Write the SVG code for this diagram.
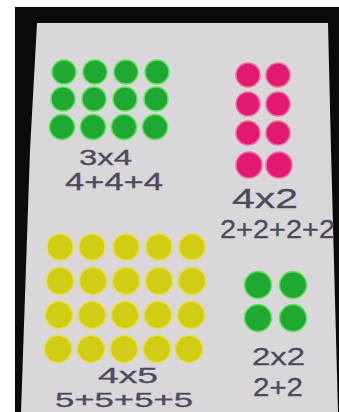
<svg xmlns="http://www.w3.org/2000/svg" width="339" height="412" viewBox="0 0 339 412">
<style>
.g{fill:#1fa832;stroke:#63e25e;stroke-width:1.5}
.p{fill:#e2196f;stroke:#f56aa8;stroke-width:1.5}
.y{fill:#d3cc14;stroke:#e6e03a;stroke-width:1.5}
.t{font-family:"Liberation Sans",Arial,sans-serif;fill:#4c4b5e;stroke:#4c4b5e;stroke-width:0.3}
</style>
<rect width="339" height="412" fill="#ffffff"/>
<rect x="15" y="7" width="324" height="405" fill="#0b0909"/>
<polygon points="37,23 328,23 331,150 338,412 21,412 30,150" fill="#d9d7da"/>
<g id="array-3x4">
<circle class="g" cx="64" cy="72" r="12"/><circle class="g" cx="95" cy="72" r="12"/><circle class="g" cx="126" cy="72" r="12"/><circle class="g" cx="157" cy="72" r="12"/>
<circle class="g" cx="63" cy="99" r="12"/><circle class="g" cx="94" cy="99" r="12"/><circle class="g" cx="125" cy="99" r="12"/><circle class="g" cx="156" cy="99" r="12"/>
<circle class="g" cx="62" cy="127" r="12.5"/><circle class="g" cx="93" cy="127" r="12.5"/><circle class="g" cx="124" cy="127" r="12.5"/><circle class="g" cx="155" cy="127" r="12.5"/>
<text class="t" x="79" y="165" font-size="22" textLength="53" lengthAdjust="spacingAndGlyphs">3x4</text>
<text class="t" x="65" y="190" font-size="23" textLength="98" lengthAdjust="spacingAndGlyphs">4+4+4</text>
</g>
<g id="array-4x2">
<circle class="p" cx="248" cy="75" r="12"/><circle class="p" cx="278" cy="75" r="12"/>
<circle class="p" cx="248" cy="104" r="12"/><circle class="p" cx="278" cy="104" r="12"/>
<circle class="p" cx="248" cy="133" r="12"/><circle class="p" cx="278" cy="133" r="12"/>
<circle class="p" cx="249" cy="165" r="13"/><circle class="p" cx="279" cy="165" r="13"/>
<text class="t" x="232" y="208" font-size="27" textLength="66" lengthAdjust="spacingAndGlyphs">4x2</text>
<text class="t" x="220" y="238" font-size="25" textLength="115" lengthAdjust="spacingAndGlyphs">2+2+2+2</text>
</g>
<g id="array-4x5">
<circle class="y" cx="60" cy="247" r="13"/><circle class="y" cx="92" cy="247" r="13"/><circle class="y" cx="126" cy="247" r="13"/><circle class="y" cx="159" cy="247" r="13"/><circle class="y" cx="192" cy="247" r="13"/>
<circle class="y" cx="60" cy="281" r="13.5"/><circle class="y" cx="93" cy="281" r="13.5"/><circle class="y" cx="126" cy="281" r="13.5"/><circle class="y" cx="159" cy="281" r="13.5"/><circle class="y" cx="192" cy="281" r="13.5"/>
<circle class="y" cx="59" cy="315" r="13.5"/><circle class="y" cx="92" cy="315" r="13.5"/><circle class="y" cx="125" cy="315" r="13.5"/><circle class="y" cx="158" cy="315" r="13.5"/><circle class="y" cx="191" cy="315" r="13.5"/>
<circle class="y" cx="58" cy="349" r="13.5"/><circle class="y" cx="91" cy="349" r="13.5"/><circle class="y" cx="124" cy="349" r="13.5"/><circle class="y" cx="157" cy="349" r="13.5"/><circle class="y" cx="189" cy="349" r="13.5"/>
<text class="t" x="98" y="383" font-size="22" textLength="60" lengthAdjust="spacingAndGlyphs">4x5</text>
<text class="t" x="55" y="407" font-size="20" textLength="138" lengthAdjust="spacingAndGlyphs">5+5+5+5</text>
</g>
<g id="array-2x2">
<circle class="g" cx="258" cy="285" r="13.5"/><circle class="g" cx="293" cy="285" r="13.5"/>
<circle class="g" cx="258" cy="318" r="13.5"/><circle class="g" cx="293" cy="318" r="13.5"/>
<text class="t" x="252" y="365" font-size="24" textLength="53" lengthAdjust="spacingAndGlyphs">2x2</text>
<text class="t" x="253" y="396" font-size="26" textLength="50" lengthAdjust="spacingAndGlyphs">2+2</text>
</g>
</svg>
